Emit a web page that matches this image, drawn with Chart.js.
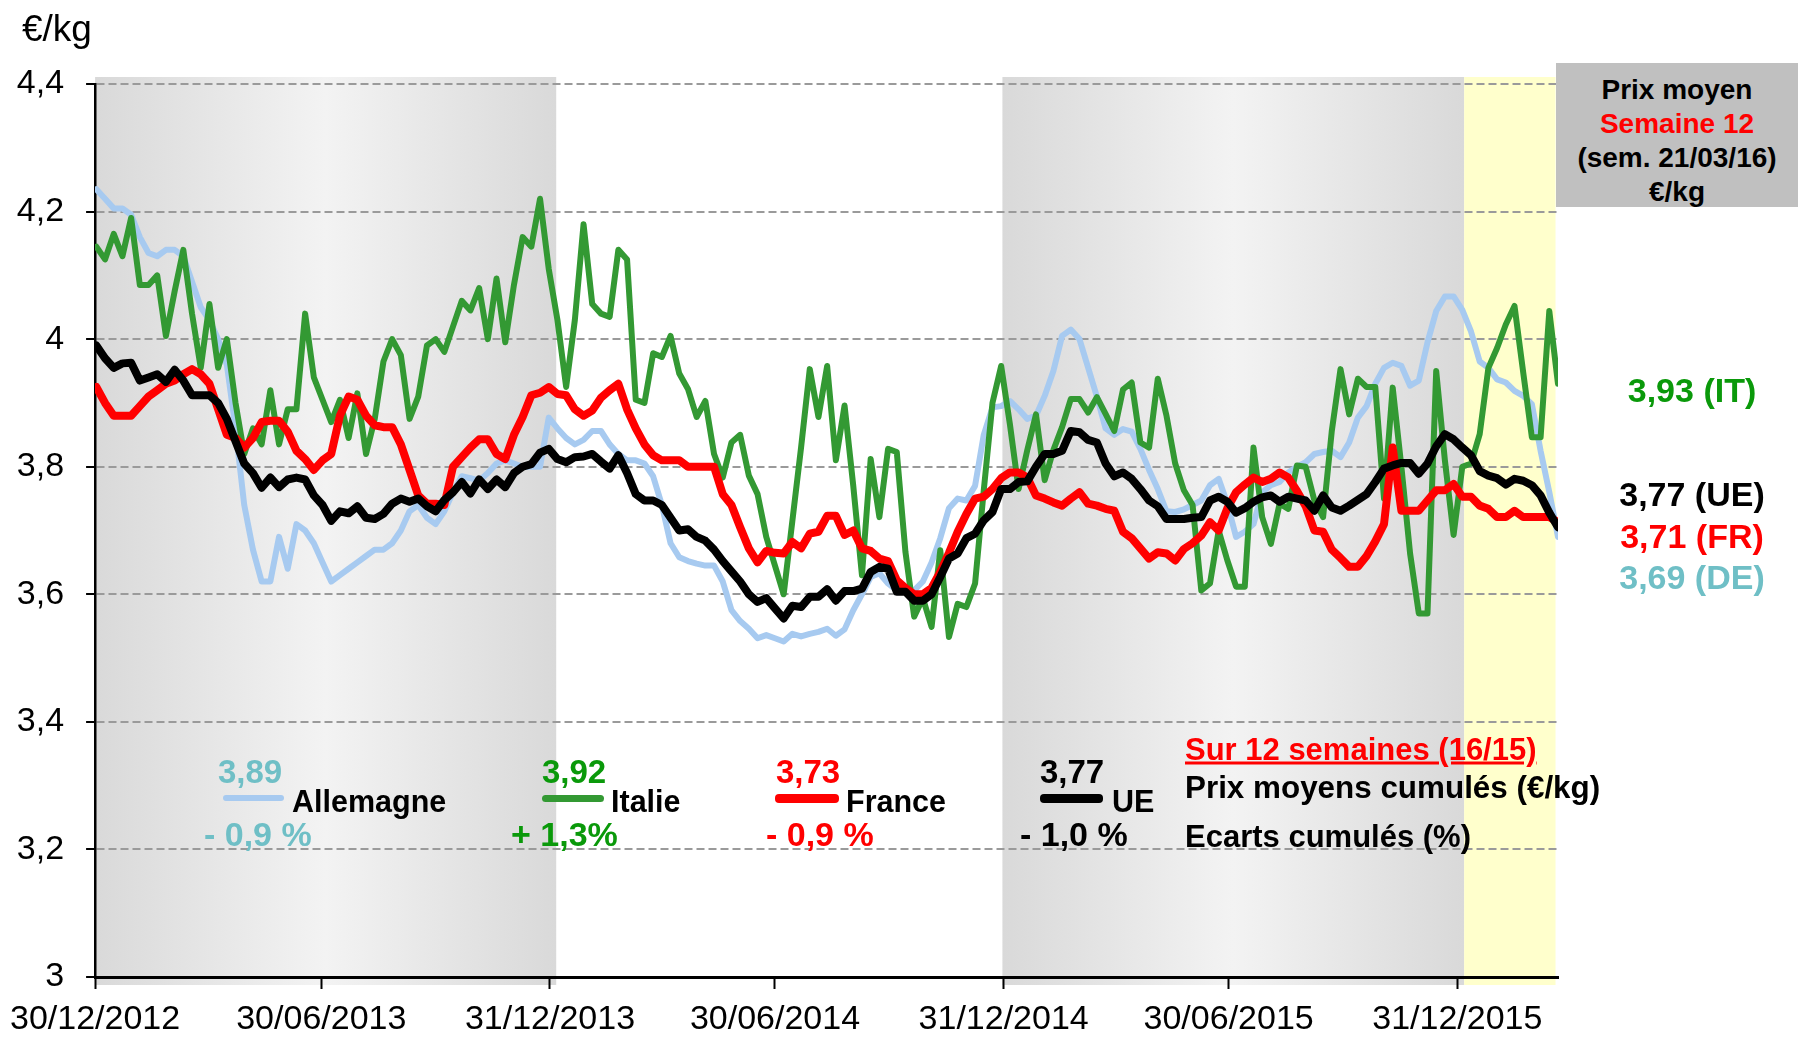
<!DOCTYPE html>
<html>
<head>
<meta charset="utf-8">
<script src="https://cdn.jsdelivr.net/npm/chart.js@4.4.1/dist/chart.umd.min.js"></script>
<style>
    body { margin: 0; background: #fff; }
    #wrap { position: relative; width: 1798px; height: 1040px; overflow: hidden; font-family: "Liberation Sans", Arial, sans-serif; }
    #chart { position: absolute; left: 0; top: 0; }
    .note { position: absolute; line-height: 1; white-space: nowrap; font-weight: bold; transform: translateY(-50%); }
    .note.center { transform: translate(-50%, -50%); }
    .swatch { position: absolute; border-radius: 4px; }
    #priceBox { position: absolute; left: 1556px; top: 63px; width: 242px; height: 144px; background: #c0c0c0; padding-top: 10px; box-sizing: border-box; }
    #priceBox div { text-align: center; font-weight: bold; font-size: 28px; line-height: 34px; }
</style>
</head>
<body>
<div id="wrap">
    <canvas id="chart" width="1798" height="1040"></canvas>
    <div class="note" style="left:22px; top:28px; font-size:37px; font-weight:normal;">€/kg</div>
    <div id="priceBox">
        <div>Prix moyen</div>
        <div style="color:#ff0000;">Semaine 12</div>
        <div>(sem. 21/03/16)</div>
        <div>€/kg</div>
    </div>
</div>
<script>
// Colours
const colors = {
    de: '#a7caf0',
    deText: '#6fbfc6',
    it: '#339933',
    itText: '#0a990a',
    fr: '#ff0000',
    ue: '#000000',
    grid: '#9a9a9a',
    bandDark: '#d9d9d9',
    bandLight: '#f3f3f3',
    yellow: '#ffffcc'
};

// Weekly prices (€/kg), 31/12/2012 .. 21/03/2016 (169 weeks)
const allemagne = [
    4.235, 4.22, 4.205, 4.205, 4.195, 4.16, 4.135, 4.13, 4.14, 4.14,
    4.13, 4.09, 4.05, 4.03, 4.0, 3.96, 3.86, 3.74, 3.67, 3.62,
    3.62, 3.69, 3.64, 3.71, 3.70, 3.68, 3.65, 3.62, 3.63, 3.64,
    3.65, 3.66, 3.67, 3.67, 3.68, 3.70, 3.73, 3.74, 3.72, 3.71,
    3.73, 3.76, 3.785, 3.782, 3.778, 3.79, 3.805, 3.81, 3.805, 3.80,
    3.80, 3.80, 3.877, 3.86, 3.845, 3.835, 3.842, 3.856, 3.856, 3.835,
    3.82, 3.81, 3.81, 3.805, 3.785, 3.74, 3.68, 3.658, 3.652, 3.648,
    3.645, 3.645, 3.62, 3.575, 3.558, 3.546, 3.531, 3.536, 3.531, 3.526,
    3.538, 3.534, 3.538, 3.541, 3.546, 3.535, 3.545, 3.575, 3.60, 3.627,
    3.633, 3.617, 3.606, 3.608, 3.606, 3.62, 3.65, 3.688, 3.735, 3.75,
    3.747, 3.77, 3.85, 3.893, 3.895, 3.903, 3.89, 3.875, 3.88, 3.911,
    3.95, 4.005, 4.015, 4.0, 3.955, 3.91, 3.86, 3.85, 3.859, 3.855,
    3.828, 3.795, 3.765, 3.73, 3.729, 3.733, 3.74, 3.747, 3.771, 3.781,
    3.742, 3.69, 3.698, 3.71, 3.76, 3.771, 3.776, 3.791, 3.80, 3.807,
    3.82, 3.823, 3.825, 3.815, 3.838, 3.877, 3.895, 3.93, 3.955, 3.963,
    3.958, 3.927, 3.935, 3.995, 4.044, 4.067, 4.067, 4.046, 4.012, 3.965,
    3.955, 3.937, 3.932, 3.919, 3.911, 3.898, 3.825, 3.76, 3.69
];
const italie = [
    4.145, 4.125, 4.165, 4.13, 4.19, 4.085, 4.085, 4.10, 4.005, 4.075,
    4.14, 4.04, 3.955, 4.055, 3.955, 4.0, 3.90, 3.82, 3.86, 3.835,
    3.92, 3.835, 3.89, 3.89, 4.04, 3.94, 3.905, 3.87, 3.905, 3.845,
    3.915, 3.82, 3.875, 3.965, 4.0, 3.975, 3.875, 3.91, 3.99, 4.0,
    3.98, 4.02, 4.06, 4.045, 4.08, 4.0, 4.095, 3.995, 4.085, 4.16,
    4.145, 4.22, 4.11, 4.03, 3.925, 4.03, 4.18, 4.055, 4.04, 4.035,
    4.14, 4.125, 3.905, 3.9, 3.978, 3.972, 4.005, 3.946, 3.922, 3.878,
    3.903, 3.82, 3.783, 3.838, 3.85, 3.786, 3.757, 3.69, 3.645, 3.60,
    3.715, 3.83, 3.953, 3.878, 3.958, 3.81, 3.896, 3.77, 3.63, 3.812,
    3.721, 3.828, 3.823, 3.666, 3.565, 3.594, 3.549, 3.669, 3.533, 3.585,
    3.58, 3.617, 3.763, 3.90, 3.958, 3.867, 3.765, 3.826, 3.882, 3.779,
    3.826, 3.862, 3.906, 3.906, 3.885, 3.909, 3.883, 3.856, 3.921, 3.932,
    3.838, 3.83, 3.938, 3.88, 3.805, 3.763, 3.74, 3.606, 3.617, 3.70,
    3.653, 3.612, 3.612, 3.83, 3.721, 3.679, 3.742, 3.734, 3.802, 3.80,
    3.747, 3.721, 3.856, 3.953, 3.882, 3.938, 3.925, 3.925, 3.75, 3.924,
    3.80, 3.664, 3.57, 3.57, 3.95, 3.81, 3.693, 3.80, 3.805, 3.851,
    3.955, 3.986, 4.023, 4.052, 3.948, 3.846, 3.846, 4.044, 3.93
];
const france = [
    3.925, 3.90, 3.88, 3.88, 3.88, 3.895, 3.91, 3.92, 3.93, 3.935,
    3.945, 3.953, 3.945, 3.93, 3.89, 3.85, 3.845, 3.83, 3.845, 3.87,
    3.872, 3.872, 3.855, 3.825, 3.812, 3.795, 3.81, 3.82, 3.88, 3.91,
    3.905, 3.88, 3.865, 3.862, 3.862, 3.835, 3.795, 3.755, 3.742, 3.742,
    3.74, 3.80, 3.815, 3.83, 3.843, 3.843, 3.82, 3.812, 3.85, 3.878,
    3.912, 3.916, 3.925, 3.914, 3.912, 3.89, 3.88, 3.888, 3.908, 3.92,
    3.93, 3.89, 3.86, 3.835, 3.818, 3.81, 3.81, 3.81, 3.80, 3.80,
    3.80, 3.80, 3.757, 3.74, 3.705, 3.672, 3.65, 3.668, 3.665, 3.664,
    3.682, 3.672, 3.695, 3.698, 3.723, 3.723, 3.693, 3.70, 3.672, 3.668,
    3.656, 3.652, 3.622, 3.61, 3.60, 3.60, 3.61, 3.635, 3.665, 3.698,
    3.726, 3.75, 3.753, 3.765, 3.782, 3.791, 3.791, 3.783, 3.755, 3.75,
    3.744, 3.739, 3.75, 3.76, 3.742, 3.739, 3.734, 3.731, 3.698, 3.688,
    3.672, 3.656, 3.666, 3.664, 3.653, 3.671, 3.68, 3.692, 3.713, 3.70,
    3.735, 3.76, 3.772, 3.783, 3.776, 3.781, 3.791, 3.783, 3.762, 3.738,
    3.70, 3.698, 3.67, 3.657, 3.643, 3.643, 3.66, 3.683, 3.71, 3.83,
    3.731, 3.731, 3.731, 3.747, 3.763, 3.763, 3.773, 3.753, 3.753, 3.739,
    3.734, 3.721, 3.721, 3.731, 3.721, 3.721, 3.721, 3.721, 3.713
];
const ue = [
    3.99, 3.97, 3.955, 3.962, 3.963, 3.935, 3.94, 3.945, 3.933, 3.952,
    3.935, 3.912, 3.912, 3.912, 3.90, 3.875, 3.84, 3.805, 3.79, 3.767,
    3.783, 3.768, 3.78, 3.783, 3.78, 3.755, 3.74, 3.715, 3.73, 3.727,
    3.738, 3.72, 3.718, 3.726, 3.742, 3.75, 3.745, 3.75, 3.738, 3.73,
    3.748, 3.76, 3.776, 3.758, 3.78, 3.765, 3.78, 3.768, 3.79, 3.80,
    3.804, 3.822, 3.828, 3.812, 3.807, 3.815, 3.816, 3.82, 3.808, 3.797,
    3.818, 3.79, 3.757, 3.747, 3.747, 3.74, 3.72, 3.70, 3.702, 3.69,
    3.684, 3.67, 3.652, 3.636, 3.62, 3.60, 3.588, 3.594, 3.578, 3.562,
    3.582, 3.58, 3.596, 3.596, 3.608, 3.59, 3.605, 3.605, 3.609, 3.635,
    3.643, 3.64, 3.604, 3.604, 3.59, 3.59, 3.60, 3.627, 3.656, 3.664,
    3.688, 3.695, 3.716, 3.729, 3.765, 3.765, 3.776, 3.777, 3.80, 3.82,
    3.82, 3.825, 3.856, 3.854, 3.842, 3.838, 3.805, 3.785, 3.791, 3.781,
    3.765, 3.747, 3.738, 3.718, 3.718, 3.718, 3.72, 3.721, 3.747, 3.753,
    3.745, 3.728, 3.735, 3.745, 3.752, 3.755, 3.745, 3.753, 3.75, 3.747,
    3.731, 3.755, 3.736, 3.731, 3.739, 3.748, 3.757, 3.776, 3.797, 3.802,
    3.806, 3.806, 3.789, 3.805, 3.832, 3.851, 3.843, 3.83, 3.818, 3.793,
    3.786, 3.782, 3.772, 3.781, 3.778, 3.771, 3.755, 3.728, 3.705
];

// Axis: days counted from 30/12/2012, first weekly price on day 1
const axisEndDay = 1177;
const xTickDays = [0, 182, 366, 547, 731, 912, 1096];
const xTickLabels = ['30/12/2012', '30/06/2013', '31/12/2013', '30/06/2014', '31/12/2014', '30/06/2015', '31/12/2015'];
const yTicks = [3, 3.2, 3.4, 3.6, 3.8, 4, 4.2, 4.4];
const yTickLabels = ['3', '3,2', '3,4', '3,6', '3,8', '4', '4,2', '4,4'];

// Shaded periods (days): 2013, 2015 and 2016 so far
const bandStart = [0, 730, 1101.5];
const bandEnd = [371, 1101.5, 1175];
const bandKind = ['gray', 'gray', 'yellow'];

// Legend figures (12 weeks 16/15)
const seriesNames = ['Allemagne', 'Italie', 'France', 'UE'];
const avgPrices = ['3,89', '3,92', '3,73', '3,77'];
const cumulDiffs = ['- 0,9 %', '+ 1,3%', '- 0,9 %', '- 1,0 %'];
const lastPrices = ['3,93 (IT)', '3,77 (UE)', '3,71 (FR)', '3,69 (DE)'];

function toPoints(values) {
    return values.map((v, i) => ({ x: 1 + 7 * i, y: v }));
}

// Shaded background bands, painted before grid and lines
const bandPlugin = {
    id: 'bands',
    beforeDraw(chart) {
        const { ctx, chartArea, scales } = chart;
        const top = chartArea.top - 7;
        const height = chartArea.bottom + 8 - top;
        ctx.save();
        bandStart.forEach((from, k) => {
            const x0 = scales.x.getPixelForValue(from);
            const x1 = scales.x.getPixelForValue(bandEnd[k]);
            if (bandKind[k] === 'gray') {
                const g = ctx.createLinearGradient(x0, 0, x1, 0);
                g.addColorStop(0, colors.bandDark);
                g.addColorStop(0.5, colors.bandLight);
                g.addColorStop(1, colors.bandDark);
                ctx.fillStyle = g;
            } else {
                ctx.fillStyle = colors.yellow;
            }
            ctx.fillRect(x0, top, x1 - x0, height);
        });
        ctx.restore();
    }
};

function lineSet(label, values, color, width, order) {
    return {
        label: label,
        data: toPoints(values),
        borderColor: color,
        borderWidth: width,
        pointRadius: 0,
        tension: 0,
        borderJoinStyle: 'round',
        borderCapStyle: 'round',
        order: order
    };
}

const tickFont = { family: '"Liberation Sans", Arial, sans-serif', size: 34 };

new Chart(document.getElementById('chart'), {
    type: 'line',
    data: {
        datasets: [
            lineSet(seriesNames[0], allemagne, colors.de, 6, 4),
            lineSet(seriesNames[1], italie, colors.it, 6, 3),
            lineSet(seriesNames[2], france, colors.fr, 8, 2),
            lineSet(seriesNames[3], ue, colors.ue, 8, 1)
        ]
    },
    options: {
        responsive: false,
        animation: false,
        layout: { padding: { left: 0, top: 84, right: 240, bottom: 0 } },
        plugins: { legend: { display: false }, tooltip: { enabled: false } },
        scales: {
            x: {
                type: 'linear',
                min: 0,
                max: axisEndDay,
                afterFit: (scale) => { scale.height = 63; },
                afterBuildTicks: (scale) => { scale.ticks = xTickDays.map(v => ({ value: v })); },
                grid: { drawOnChartArea: false, tickColor: '#000', tickLength: 12, tickWidth: 2 },
                border: { color: '#000', width: 3 },
                ticks: {
                    color: '#000',
                    font: tickFont,
                    padding: 10,
                    maxRotation: 0,
                    autoSkip: false,
                    callback: (value) => xTickLabels[xTickDays.indexOf(value)]
                }
            },
            y: {
                min: 3,
                max: 4.4,
                afterFit: (scale) => { scale.width = 92; },
                afterBuildTicks: (scale) => { scale.ticks = yTicks.map(v => ({ value: v })); },
                grid: { color: colors.grid, lineWidth: 2, tickColor: '#000', tickLength: 9, tickWidth: 2 },
                border: { color: '#000', width: 2.5, dash: [8, 4] },
                ticks: {
                    color: '#000',
                    font: tickFont,
                    padding: 22,
                    callback: (value) => yTickLabels[yTicks.indexOf(value)]
                }
            }
        }
    },
    plugins: [bandPlugin]
});

// Text annotations on top of the chart
const wrap = document.getElementById('wrap');

function addNote(text, x, y, size, color, centered, underline) {
    const el = document.createElement('div');
    el.className = centered ? 'note center' : 'note';
    el.textContent = text;
    el.style.left = x + 'px';
    el.style.top = y + 'px';
    el.style.fontSize = size + 'px';
    el.style.color = color;
    if (underline) el.style.textDecoration = 'underline';
    wrap.appendChild(el);
}

function addSwatch(x, y, w, h, color) {
    const el = document.createElement('div');
    el.className = 'swatch';
    el.style.left = x + 'px';
    el.style.top = (y - h / 2) + 'px';
    el.style.width = w + 'px';
    el.style.height = h + 'px';
    el.style.background = color;
    wrap.appendChild(el);
}

// Legend block, one column per series
const legendTextColors = [colors.deText, colors.itText, colors.fr, colors.ue];
const legendLineColors = [colors.de, colors.it, colors.fr, colors.ue];
const valueX = [218, 542, 776, 1040];
const lineX = [223, 542, 775, 1040];
const lineW = [61, 62, 64, 63];
const lineH = [6, 7, 9, 9];
const nameX = [292, 611, 846, 1112];
const diffX = [204, 511, 766, 1020];

seriesNames.forEach((name, k) => {
    addNote(avgPrices[k], valueX[k], 771, 33, legendTextColors[k]);
    addSwatch(lineX[k], 798, lineW[k], lineH[k], legendLineColors[k]);
    addNote(name, nameX[k], 801, 30.5, '#000');
    addNote(cumulDiffs[k], diffX[k], 834, 34, legendTextColors[k]);
});

addNote('Sur 12 semaines (16/15)', 1185, 749, 31, colors.fr, false, true);
addNote('Prix moyens cumulés (€/kg)', 1185, 788, 31.4, '#000');
addNote('Ecarts cumulés (%)', 1185, 836, 31, '#000');

// Latest week prices, right margin
const lastColors = [colors.itText, colors.ue, colors.fr, colors.deText];
const lastY = [390, 494, 536, 577];
lastPrices.forEach((t, k) => addNote(t, 1692, lastY[k], 34, lastColors[k], true));
</script>
</body>
</html>
